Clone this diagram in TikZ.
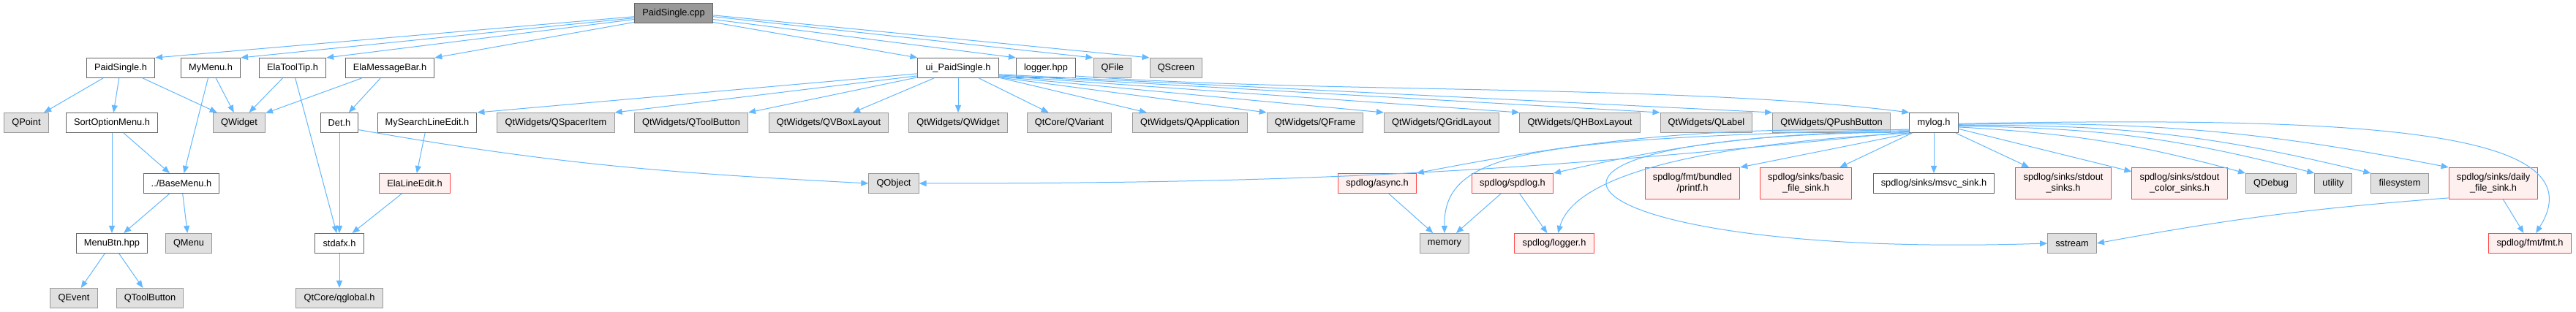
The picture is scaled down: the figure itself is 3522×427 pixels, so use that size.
\documentclass[tikz,border=0pt]{standalone}
\usepackage{fontspec}
\setmainfont{Liberation Sans}
\usetikzlibrary{arrows.meta}
\definecolor{edgeblue}{HTML}{63B8FF}
\definecolor{extfill}{HTML}{E0E0E0}
\definecolor{extdraw}{HTML}{999999}
\definecolor{truncfill}{HTML}{FFF0F0}
\definecolor{truncdraw}{HTML}{FF4444}
\definecolor{srcfill}{HTML}{999999}
\definecolor{boxdraw}{HTML}{666666}
\begin{document}
\begin{tikzpicture}[>={Triangle[length=7.5pt,width=6pt]},x=0.75pt,y=-0.75pt,
  fb/.style={draw,line width=0.75pt,minimum height=20.25pt,inner xsep=8pt,
             inner ysep=0pt,font=\fontsize{9.6}{11.25}\selectfont},
  src/.style={fb,fill=srcfill,draw=boxdraw},
  hdr/.style={fb,fill=white,draw=boxdraw},
  ext/.style={fb,fill=extfill,draw=extdraw},
  trc/.style={fb,fill=truncfill,draw=truncdraw},
  two/.style={align=center,minimum height=32.25pt},
  dep/.style={->,edgeblue,line width=0.75pt}]
\path[use as bounding box,fill=white] (0,0) rectangle (3522,427);
\node[src] (cpp) at (921,18) {PaidSingle.cpp};
\node[hdr] (psh) at (165,93) {PaidSingle.h};
\node[hdr] (mymenu) at (288,93) {MyMenu.h};
\node[hdr] (tooltip) at (400,93) {ElaToolTip.h};
\node[hdr] (msgbar) at (533,93) {ElaMessageBar.h};
\node[hdr] (uih) at (1310,93) {ui\_PaidSingle.h};
\node[hdr] (logger) at (1430,93) {logger.hpp};
\node[ext] (qfile) at (1521,93) {QFile};
\node[ext] (qscreen) at (1608,93) {QScreen};
\node[ext] (qpoint) at (36,168) {QPoint};
\node[hdr] (sortmenu) at (153,168) {SortOptionMenu.h};
\node[ext] (qwidget) at (327,168) {QWidget};
\node[hdr] (det) at (464,168) {Det.h};
\node[hdr] (search) at (584,168) {MySearchLineEdit.h};
\node[ext] (spacer) at (760,168) {QtWidgets/QSpacerItem};
\node[ext] (wtoolbtn) at (945,168) {QtWidgets/QToolButton};
\node[ext] (vbox) at (1133,168) {QtWidgets/QVBoxLayout};
\node[ext] (wwidget) at (1310,168) {QtWidgets/QWidget};
\node[ext] (variant) at (1462,168) {QtCore/QVariant};
\node[ext] (app) at (1627,168) {QtWidgets/QApplication};
\node[ext] (frame) at (1798,168) {QtWidgets/QFrame};
\node[ext] (grid) at (1971,168) {QtWidgets/QGridLayout};
\node[ext] (hbox) at (2160,168) {QtWidgets/QHBoxLayout};
\node[ext] (label) at (2333,168) {QtWidgets/QLabel};
\node[ext] (push) at (2504,168) {QtWidgets/QPushButton};
\node[hdr] (mylog) at (2644,168) {mylog.h};
\node[hdr] (basemenu) at (248,251) {../BaseMenu.h};
\node[trc] (lineedit) at (567,251) {ElaLineEdit.h};
\node[ext] (qobject) at (1222,251) {QObject};
\node[trc] (async) at (1883,251) {spdlog/async.h};
\node[trc] (spd) at (2068,251) {spdlog/spdlog.h};
\node[trc,two] (printf) at (2314,251) {spdlog/fmt/bundled\\/printf.h};
\node[trc,two] (basic) at (2469,251) {spdlog/sinks/basic\\\_file\_sink.h};
\node[hdr] (msvc) at (2644,251) {spdlog/sinks/msvc\_sink.h};
\node[trc,two] (stdout) at (2821,251) {spdlog/sinks/stdout\\\_sinks.h};
\node[trc,two] (color) at (2980,251) {spdlog/sinks/stdout\\\_color\_sinks.h};
\node[ext] (qdebug) at (3105,251) {QDebug};
\node[ext] (utility) at (3190,251) {utility};
\node[ext] (fs) at (3281,251) {filesystem};
\node[trc,two] (daily) at (3409,251) {spdlog/sinks/daily\\\_file\_sink.h};
\node[hdr] (menubtn) at (153,333) {MenuBtn.hpp};
\node[ext] (qmenu) at (258,333) {QMenu};
\node[hdr] (stdafx) at (464,333) {stdafx.h};
\node[ext] (memory) at (1975,333) {memory};
\node[trc] (logh) at (2125,333) {spdlog/logger.h};
\node[ext] (sstream) at (2833,333) {sstream};
\node[trc] (fmth) at (3459,333) {spdlog/fmt/fmt.h};
\node[ext] (qevent) at (101,408) {QEvent};
\node[ext] (qtoolbtn) at (205,408) {QToolButton};
\node[ext] (qglobal) at (464,408) {QtCore/qglobal.h};
\draw[dep] (cpp.185) -- (psh.north east);
\draw[dep] (cpp.187) -- (mymenu.north east);
\draw[dep] (cpp.189) -- (tooltip.north east);
\draw[dep] (cpp.193) -- (msgbar.north east);
\draw[dep] (cpp.-13) -- (uih.north west);
\draw[dep] (cpp.-9) -- (logger.north west);
\draw[dep] (cpp.-5) -- (qfile.north west);
\draw[dep] (cpp.-3) -- (qscreen.north west);
\draw[dep] (psh) -- (qpoint);
\draw[dep] (psh) -- (sortmenu);
\draw[dep] (psh) -- (qwidget);
\draw[dep] (mymenu) -- (qwidget);
\draw[dep] (mymenu) -- (basemenu);
\draw[dep] (tooltip) -- (qwidget);
\draw[dep] (tooltip) -- (stdafx);
\draw[dep] (msgbar) -- (qwidget);
\draw[dep] (msgbar) -- (det);
\draw[dep] (sortmenu) -- (menubtn);
\draw[dep] (sortmenu) -- (basemenu);
\draw[dep] (basemenu) -- (menubtn);
\draw[dep] (basemenu) -- (qmenu);
\draw[dep] (menubtn) -- (qevent);
\draw[dep] (menubtn) -- (qtoolbtn);
\draw[dep] (det) -- (stdafx);
\draw[dep] (det.-20) to[out=-10,in=177] (qobject.west);
\draw[dep] (search) -- (lineedit);
\draw[dep] (lineedit) -- (stdafx);
\draw[dep] (stdafx) -- (qglobal);
\draw[dep] (uih.188) -- (search.north east);
\draw[dep] (uih.191) -- (spacer.north east);
\draw[dep] (uih.193) -- (wtoolbtn.north east);
\draw[dep] (uih) -- (vbox);
\draw[dep] (uih) -- (wwidget);
\draw[dep] (uih) -- (variant);
\draw[dep] (uih) -- (app);
\draw[dep] (uih.-13) -- (frame.north west);
\draw[dep] (uih.-12) -- (grid.north west);
\draw[dep] (uih.-11) -- (hbox.north west);
\draw[dep] (uih.-10) -- (label.north west);
\draw[dep] (uih.-9) -- (push.north west);
\draw[dep] (logger.-15) .. controls (1800,128) and (2300,115) .. (mylog.north west);
\draw[dep] (mylog.200) to[bend left=3] (qobject.east);
\draw[dep] (mylog.197) to[bend right=6] (async.north east);
\draw[dep] (mylog.199) to[bend right=6] (spd.north east);
\draw[dep] (mylog.195) .. controls (2100,190) and (1973,205) .. (memory.north);
\draw[dep] (mylog.203) .. controls (2280,200) and (2150,250) .. (logh.70);
\draw[dep] (mylog.201) .. controls (1950,185) and (2130,355) .. (sstream.west);
\draw[dep] (mylog.205) -- (printf.north east);
\draw[dep] (mylog) -- (basic);
\draw[dep] (mylog) -- (msvc);
\draw[dep] (mylog) -- (stdout);
\draw[dep] (mylog) -- (color);
\draw[dep] (mylog.-10) to[bend left=6] (qdebug.north west);
\draw[dep] (mylog.-8) to[bend left=7] (utility.north west);
\draw[dep] (mylog.-6) to[bend left=7] (fs.north west);
\draw[dep] (mylog.-4) to[bend left=6] (daily.north west);
\draw[dep] (mylog.-2) .. controls (3200,160) and (3560,172) .. (fmth.60);
\draw[dep] (async) -- (memory);
\draw[dep] (spd) -- (memory);
\draw[dep] (spd) -- (logh);
\draw[dep] (daily.198) to[bend right=3] (sstream.east);
\draw[dep] (daily) -- (fmth);
\end{tikzpicture}
\end{document}
